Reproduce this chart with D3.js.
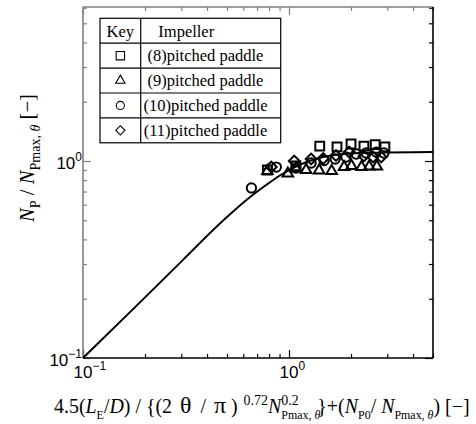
<!DOCTYPE html>
<html>
<head>
<meta charset="utf-8">
<script src="https://cdn.jsdelivr.net/npm/d3@7"></script>
<style>
  body { margin: 0; background: #fff; }
  text { white-space: pre; }
</style>
</head>
<body>
<svg id="chart" width="476" height="424"></svg>
<script>
// axis ranges
const xDomain = [0.1, 5];
const yDomain = [0.1, 6.05];
const xLabelPowers = [-1, 0];
const yLabelPowers = [-1, 0];

// correlation curve
const curveX = [0.1, 0.175, 0.305, 0.476, 0.643, 0.774, 0.928, 1.12, 1.4, 1.85, 2.45, 5.0];
const curveY = [0.1, 0.177, 0.314, 0.496, 0.653, 0.755, 0.859, 0.954, 1.036, 1.085, 1.1, 1.11];

// measured points
const sqX = [0.785, 1.08, 1.41, 1.71, 2.0, 2.31, 2.62, 2.92];
const sqY = [0.9, 0.944, 1.19, 1.18, 1.22, 1.19, 1.21, 1.18];
const trX = [0.785, 0.987, 1.08, 1.21, 1.4, 1.61, 1.85, 2.01, 2.25, 2.45, 2.67];
const trY = [0.89, 0.864, 0.916, 0.9, 0.896, 0.89, 0.932, 0.944, 0.932, 0.938, 0.938];
const ciX = [0.657, 0.868, 1.08, 1.28, 1.48, 1.675, 1.89, 2.12, 2.37, 2.65, 2.89];
const ciY = [0.73, 0.932, 0.921, 0.977, 1.006, 1.024, 1.048, 1.085, 1.098, 1.11, 1.098];
const diX = [0.82, 1.06, 1.28, 1.466, 1.69, 1.96, 2.31, 2.56, 2.8];
const diY = [0.932, 1.0, 1.024, 1.03, 1.066, 1.11, 1.06, 1.048, 1.048];

const legendNames = ["(8)pitched paddle", "(9)pitched paddle", "(10)pitched paddle", "(11)pitched paddle"];

const margin = { top: 7, right: 43, bottom: 66, left: 83 };
const width = 476 - margin.left - margin.right;
const height = 424 - margin.top - margin.bottom;
const grey = "#7f7f7f";
const serif = "'Liberation Serif', 'Times New Roman', serif";
const sans = "'Liberation Sans', Arial, sans-serif";

const svg = d3.select("#chart");
const g = svg.append("g").attr("transform", `translate(${margin.left},${margin.top})`);

const x = d3.scaleLog().domain(xDomain).range([0, width]);
const y = d3.scaleLog().domain(yDomain).range([height, 0]);

const isMajor = (t) => Math.abs(Math.log10(t) - Math.round(Math.log10(t))) < 1e-6;
const xMajor = x.ticks().filter(isMajor);
const xMinor = x.ticks().filter((t) => !isMajor(t));
const yMajor = y.ticks().filter(isMajor);
const yMinor = y.ticks().filter((t) => !isMajor(t));

// inward ticks, no labels
function tickAxis(axisFn, scale, values, size, color, transform) {
  const a = g.append("g")
    .attr("transform", transform)
    .call(axisFn(scale).tickValues(values).tickSize(-size).tickFormat(""));
  a.select(".domain").remove();
  a.selectAll("line").attr("stroke", color).attr("stroke-width", 1.2);
}
tickAxis(d3.axisBottom, x, xMinor, 4, "#000", `translate(0,${height})`);
tickAxis(d3.axisBottom, x, xMajor, 8, "#000", `translate(0,${height})`);
tickAxis(d3.axisTop, x, xMinor, 4, grey, "translate(0,0)");
tickAxis(d3.axisTop, x, xMajor, 8, grey, "translate(0,0)");
tickAxis(d3.axisLeft, y, yMinor, 4, grey, "translate(0,0)");
tickAxis(d3.axisLeft, y, yMajor, 8, grey, "translate(0,0)");
tickAxis(d3.axisRight, y, yMinor, 4, "#000", `translate(${width},0)`);
tickAxis(d3.axisRight, y, yMajor, 8, "#000", `translate(${width},0)`);

// frame: left/top grey, right/bottom black
g.append("line").attr("x1", 0).attr("x2", 0).attr("y1", 0).attr("y2", height).attr("stroke", grey).attr("stroke-width", 1.6);
g.append("line").attr("x1", 0).attr("x2", width).attr("y1", 0).attr("y2", 0).attr("stroke", grey).attr("stroke-width", 1.6);
g.append("line").attr("x1", width).attr("x2", width).attr("y1", 0).attr("y2", height).attr("stroke", "#000").attr("stroke-width", 1.6);
g.append("line").attr("x1", 0).attr("x2", width).attr("y1", height).attr("y2", height).attr("stroke", "#000").attr("stroke-width", 1.6);

// tick labels 10^n
function powLabel(px, py, p, anchor) {
  const t = g.append("text")
    .attr("x", px).attr("y", py)
    .attr("text-anchor", anchor)
    .attr("font-family", sans).attr("font-size", 17)
    .text("10");
  t.append("tspan").attr("dy", -8).attr("font-size", 12).text(p < 0 ? "\u2212" + (-p) : String(p));
}
xLabelPowers.forEach((p) => powLabel(x(Math.pow(10, p)) - 9.5, height + 20, p, "start"));
yLabelPowers.forEach((p) => powLabel(-1, y(Math.pow(10, p)) + 8, p, "end"));

// curve
const curveData = curveX.map((v, i) => [v, curveY[i]]);
g.append("path")
  .datum(curveData)
  .attr("fill", "none")
  .attr("stroke", "#000")
  .attr("stroke-width", 2)
  .attr("d", d3.line().x((d) => x(d[0])).y((d) => y(d[1])).curve(d3.curveMonotoneX));

// markers
const series = [
  { xs: sqX, ys: sqY, type: d3.symbolSquare, size: 78, rot: 0, lsize: 70 },
  { xs: trX, ys: trY, type: d3.symbolTriangle, size: 48, rot: 0, lsize: 38 },
  { xs: ciX, ys: ciY, type: d3.symbolCircle, size: 68, rot: 0, lsize: 52 },
  { xs: diX, ys: diY, type: d3.symbolSquare, size: 58, rot: 45, lsize: 42 },
];
series.forEach((s) => {
  g.append("g")
    .selectAll("path")
    .data(s.xs.map((v, i) => [v, s.ys[i]]))
    .enter()
    .append("path")
    .attr("d", d3.symbol().type(s.type).size(s.size))
    .attr("transform", (d) => `translate(${x(d[0])},${y(d[1])}) rotate(${s.rot})`)
    .attr("fill", "none")
    .attr("stroke", "#000")
    .attr("stroke-width", 2);
});

// legend table
const lg = svg.append("g").attr("transform", "translate(100,18.3)");
const lw = 180.7, rowH = 24.9, col = 40.7;
lg.append("rect").attr("width", lw).attr("height", rowH * 5).attr("fill", "#fff").attr("stroke", "#000").attr("stroke-width", 1.2);
lg.append("line").attr("x1", col).attr("x2", col).attr("y1", 0).attr("y2", rowH * 5).attr("stroke", "#000").attr("stroke-width", 1.2);
d3.range(1, 5).forEach((i) => {
  lg.append("line").attr("x1", 0).attr("x2", lw).attr("y1", i * rowH).attr("y2", i * rowH).attr("stroke", "#000").attr("stroke-width", 1.2);
});
lg.append("text").attr("x", col / 2).attr("y", 18.5).attr("text-anchor", "middle")
  .attr("font-family", serif).attr("font-size", 16.5).text("Key");
lg.append("text").attr("x", 58.3).attr("y", 18.5)
  .attr("font-family", serif).attr("font-size", 16.5).text("Impeller");
legendNames.forEach((name, i) => {
  const cy = (i + 1.5) * rowH;
  const s = series[i];
  lg.append("path")
    .attr("d", d3.symbol().type(s.type).size(s.lsize))
    .attr("transform", `translate(${col / 2},${cy}) rotate(${s.rot})`)
    .attr("fill", "none").attr("stroke", "#000").attr("stroke-width", 1.1);
  lg.append("text").attr("x", 105.5).attr("y", cy + 5.8).attr("text-anchor", "middle")
    .attr("font-family", serif).attr("font-size", 16.5).text(name);
});

// rich text titles laid out piece by piece; dx given for a 20px base size
function richText(parent, segs, fs, subScale, supScale) {
  let cx = 0, holdEnd = null;
  const k = fs / 20;
  segs.forEach((s) => {
    const size = s.sub ? fs * subScale : s.sup ? fs * supScale : s.big ? fs * 1.2 : fs;
    const shift = s.sub ? fs * 0.28 : s.sup ? -fs * 0.42 : 0;
    const px = cx + (s.dx || 0) * k;
    const el = parent.append("text")
      .attr("x", px).attr("y", shift)
      .attr("font-family", serif).attr("font-size", size)
      .attr("font-style", s.i ? "italic" : "normal")
      .text(s.t);
    const w = el.node().getComputedTextLength();
    if (s.hold) { holdEnd = px + w; }
    else { cx = px + w; }
  });
  return cx;
}
function fitText(parent, segs, target, subScale, supScale) {
  const probe = parent.append("g");
  const w0 = richText(probe, segs, 20, subScale, supScale);
  probe.remove();
  richText(parent, segs, 20 * target / w0, subScale, supScale);
}

const xTitle = [
  { t: "4.5(" }, { t: "L", i: true }, { t: "E", sub: true }, { t: "/" }, { t: "D", i: true },
  { t: ") / {(" }, { t: "2" }, { t: "\u03b8", big: true, dx: 8 }, { t: " / ", dx: 4 }, { t: "\u03c0", big: true, dx: 3 },
  { t: " )" }, { t: "0.72", sup: true, dx: 6 }, { t: "N", i: true },
  { t: "0.2", sup: true, hold: true }, { t: "Pmax, ", sub: true }, { t: "\u03b8", sub: true, i: true },
  { t: "}+(", dx: -3 }, { t: "N", i: true }, { t: "P0", sub: true }, { t: "/ " }, { t: "N", i: true },
  { t: "Pmax,", sub: true }, { t: " \u03b8", sub: true, i: true }, { t: ") [\u2212]" },
];
fitText(svg.append("g").attr("transform", "translate(54,413)"), xTitle, 416, 0.6, 0.7);

const yTitle = [
  { t: "N", i: true }, { t: "P", sub: true }, { t: " / " }, { t: "N", i: true },
  { t: "Pmax, ", sub: true }, { t: "\u03b8", sub: true, i: true }, { t: " [\u2212]" },
];
fitText(svg.append("g").attr("transform", "translate(34,222) rotate(-90)"), yTitle, 128, 0.68, 0.7);
</script>
</body>
</html>
